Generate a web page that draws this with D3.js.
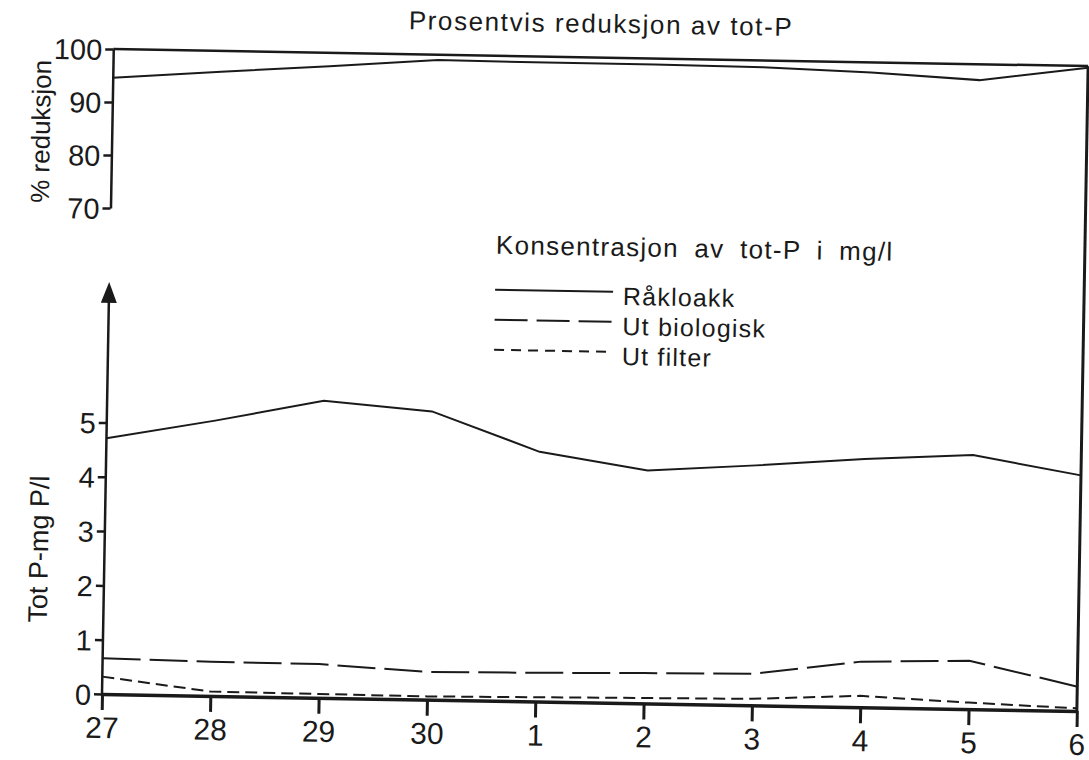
<!DOCTYPE html>
<html>
<head>
<meta charset="utf-8">
<script src="https://cdn.jsdelivr.net/npm/d3@7"></script>
<style>
  html, body { margin: 0; padding: 0; background: #fff; }
  svg { display: block; }
  text { font-family: "Liberation Sans", Arial, sans-serif; fill: #1a1a1a; }
</style>
</head>
<body>
<svg id="chart" width="1089" height="760"></svg>
<script>
// ---- data ----
const days = ["27", "28", "29", "30", "1", "2", "3", "4", "5", "6"];
const reduksjon = [94.6, 96.1, 97.5, 99.0, 98.9, 98.9, 98.7, 98.1, 97.0, 99.7];
const rakloakk = [4.71, 5.07, 5.47, 5.31, 4.60, 4.29, 4.42, 4.57, 4.68, 4.34];
const utBiologisk = [0.66, 0.63, 0.62, 0.51, 0.53, 0.56, 0.58, 0.84, 0.89, 0.45];
const utFilter = [0.32, 0.08, 0.07, 0.06, 0.08, 0.10, 0.12, 0.21, 0.12, 0.05];
const pctTicks = [70, 80, 90, 100];
const concTicks = [0, 1, 2, 3, 4, 5];
const legendTitle = "Konsentrasjon av tot-P i mg/l";
const legendNames = ["Råkloakk", "Ut biologisk", "Ut filter"];
const title = "Prosentvis reduksjon av tot-P";

// ---- layout ----
const ink = "#1a1a1a";
const font = "Liberation Sans, Arial, sans-serif";
const svg = d3.select("#chart");
const g = svg.append("g").attr("transform", "rotate(1.0,102,694)");

const x = d3.scalePoint().domain(days).range([102, 1077]);
const yTop = d3.scaleLinear().domain([70, 100]).range([208, 49]);
const yBot = d3.scaleLinear().domain([0, 5]).range([694, 422.5]);

// title
g.append("text").attr("x", 397).attr("y", 24).attr("font-size", 26)
  .attr("letter-spacing", 1.6).text(title);

// top axis
const axTop = g.append("g").attr("transform", `translate(${x(days[0])},0)`)
  .call(d3.axisLeft(yTop).tickValues(pctTicks).tickFormat(d3.format("d")).tickSize(8).tickSizeOuter(0).tickPadding(3));
axTop.select(".domain").attr("stroke", ink).attr("stroke-width", 2.5);
axTop.selectAll(".tick line").attr("stroke", ink).attr("stroke-width", 2.5);
axTop.selectAll(".tick text").attr("font-size", 29).attr("font-family", font).attr("fill", ink).attr("dy", "0.36em");

g.append("text").attr("transform", `translate(31,${(yTop(70) + yTop(100)) / 2 + 4}) rotate(-90)`)
  .attr("text-anchor", "middle").attr("dy", "0.35em").attr("font-size", 26).text("% reduksjon");

// frame: 100 line and right border
g.append("line").attr("x1", x(days[0])).attr("x2", x(days[days.length - 1]))
  .attr("y1", yTop(100)).attr("y2", yTop(100)).attr("stroke", ink).attr("stroke-width", 2.5);
g.append("line").attr("x1", x(days[days.length - 1])).attr("x2", x(days[days.length - 1]))
  .attr("y1", yTop(100)).attr("y2", yBot(0)).attr("stroke", ink).attr("stroke-width", 3);

// reduction line
const lineTop = d3.line().x((d, i) => x(days[i])).y(d => yTop(d));
g.append("path").datum(reduksjon).attr("d", lineTop).attr("fill", "none")
  .attr("stroke", ink).attr("stroke-width", 2);

// bottom axes
const axBot = g.append("g").attr("transform", `translate(${x(days[0])},0)`)
  .call(d3.axisLeft(yBot).tickValues(concTicks).tickFormat(d3.format("d")).tickSize(8).tickSizeOuter(0).tickPadding(3));
axBot.select(".domain").remove();
axBot.selectAll(".tick line").attr("stroke", ink).attr("stroke-width", 2.5);
axBot.selectAll(".tick text").attr("font-size", 29).attr("font-family", font).attr("fill", ink).attr("dy", "0.36em");

const arrowVal = 7.22;
g.append("line").attr("x1", x(days[0])).attr("x2", x(days[0]))
  .attr("y1", yBot(0)).attr("y2", yBot(arrowVal)).attr("stroke", ink).attr("stroke-width", 2.5);
const tipY = yBot(7.59), ax0 = x(days[0]);
g.append("path").attr("d", `M${ax0},${tipY} L${ax0 - 8},${tipY + 21} L${ax0 + 8},${tipY + 21} Z`).attr("fill", ink);

g.append("text").attr("transform", `translate(36,${yBot(2.65)}) rotate(-90)`)
  .attr("text-anchor", "middle").attr("dy", "0.35em").attr("font-size", 27).text("Tot P-mg P/l");

const axX = g.append("g").attr("transform", `translate(0,${yBot(0)})`)
  .call(d3.axisBottom(x).tickSize(16).tickSizeOuter(0).tickPadding(4));
axX.select(".domain").attr("stroke", ink).attr("stroke-width", 3.5);
axX.selectAll(".tick line").attr("stroke", ink).attr("stroke-width", 3);
axX.selectAll(".tick text").attr("font-size", 30).attr("font-family", font).attr("fill", ink).attr("dy", "0.8em");

// series
const lineBot = d3.line().x((d, i) => x(days[i])).y(d => yBot(d));
const styles = [
  { data: rakloakk, dash: null },
  { data: utBiologisk, dash: "38,9" },
  { data: utFilter, dash: "12,6" }
];
styles.forEach(s => {
  g.append("path").datum(s.data).attr("d", lineBot).attr("fill", "none")
    .attr("stroke", ink).attr("stroke-width", 2)
    .attr("stroke-dasharray", s.dash);
});

// legend
const lg = g.append("g").attr("transform", "translate(488,0)");
lg.append("text").attr("x", 0).attr("y", 247).attr("font-size", 26)
  .attr("letter-spacing", 1.3).attr("word-spacing", 7).text(legendTitle);
const legDash = [null, "33,9", "10,7"];
legendNames.forEach((name, i) => {
  const yy = 283 + i * 30;
  lg.append("line").attr("x1", 0).attr("x2", 118).attr("y1", yy).attr("y2", yy)
    .attr("stroke", ink).attr("stroke-width", 2).attr("stroke-dasharray", legDash[i]);
  lg.append("text").attr("x", 128).attr("y", yy + 13).attr("font-size", 25)
    .attr("letter-spacing", 1.2).text(name);
});
</script>
</body>
</html>
